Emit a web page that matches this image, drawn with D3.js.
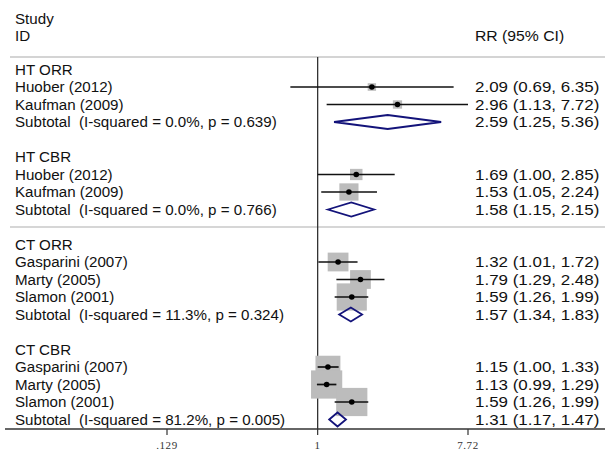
<!DOCTYPE html>
<html>
<head>
    <script src="https://d3js.org/d3.v7.min.js"></script>
    <style>
        body { margin: 0; background: #fff; }
        text { font-family: "Liberation Sans", Arial, sans-serif; font-size: 15px; fill: #111; white-space: pre; }
        .tick-label { font-family: "Liberation Serif", "DejaVu Serif", serif; font-size: 11px; fill: #333; letter-spacing: 0.6px; }
    </style>
</head>
<body>
    <div id="chart"></div>
    <script>
        const width = 605, height = 451

        // subgroups
        const groupNames = ["HT ORR", "HT CBR", "CT ORR", "CT CBR"]
        const subtotalLabels = [
            "Subtotal  (I-squared = 0.0%, p = 0.639)",
            "Subtotal  (I-squared = 0.0%, p = 0.766)",
            "Subtotal  (I-squared = 11.3%, p = 0.324)",
            "Subtotal  (I-squared = 81.2%, p = 0.005)"
        ]
        const subtotalRR = [2.59, 1.58, 1.57, 1.31]
        const subtotalLow = [1.25, 1.15, 1.34, 1.17]
        const subtotalHigh = [5.36, 2.15, 1.83, 1.47]

        // individual studies
        const studyNames = ["Huober (2012)", "Kaufman (2009)", "Huober (2012)", "Kaufman (2009)",
            "Gasparini (2007)", "Marty (2005)", "Slamon (2001)",
            "Gasparini (2007)", "Marty (2005)", "Slamon (2001)"]
        const studyGroup = [0, 0, 1, 1, 2, 2, 2, 3, 3, 3]
        const studyRR = [2.09, 2.96, 1.69, 1.53, 1.32, 1.79, 1.59, 1.15, 1.13, 1.59]
        const studyLow = [0.69, 1.13, 1.00, 1.05, 1.01, 1.29, 1.26, 1.00, 0.99, 1.26]
        const studyHigh = [6.35, 7.72, 2.85, 2.24, 1.72, 2.48, 1.99, 1.33, 1.29, 1.99]
        const studyWeight = [1.4, 1.7, 3.1, 7.3, 8.6, 8.6, 18.1, 12.4, 19.4, 19.4]

        // axis
        const tickValues = [0.129, 1, 7.72]
        const tickLabels = [".129", "1", "7.72"]

        const fmt = d3.format(".2f")
        const ciText = (m, l, h) => `${fmt(m)} (${fmt(l)}, ${fmt(h)})`

        // build rows: group label, studies, subtotal, blank
        const rows = []
        groupNames.forEach((g, gi) => {
            rows.push({ type: "label", text: g })
            studyNames.forEach((s, i) => {
                if (studyGroup[i] === gi) rows.push({ type: "study", text: s, rr: studyRR[i], lo: studyLow[i], hi: studyHigh[i], w: studyWeight[i] })
            })
            rows.push({ type: "subtotal", text: subtotalLabels[gi], rr: subtotalRR[gi], lo: subtotalLow[gi], hi: subtotalHigh[gi] })
            rows.push({ type: "blank" })
        })

        const rowStep = 17.5, firstRow = 69.5
        const yRow = i => firstRow + i * rowStep
        const x = d3.scaleLog().domain([0.129, 7.72]).range([167, 468])
        const boxSize = d3.scaleSqrt().domain([0, 19.4]).range([0, 30])
        const axisY = 429, textX = 15, ciX = 475
        const labelStretch = 1.01, ciStretch = 1.13   // the numbers column is drawn a bit wide

        const svg = d3.select("#chart").append("svg")
            .attr("width", width)
            .attr("height", height)

        const addText = (tx, ty, str, stretch) => svg.append("text")
            .attr("transform", `translate(${tx},${ty}) scale(${stretch},1)`)
            .text(str)

        // header
        addText(textX, 24, "Study", labelStretch)
        addText(textX, 41, "ID", labelStretch)
        addText(ciX, 41, "RR (95% CI)", 1.05)

        // gray separators
        svg.append("line").attr("x1", 10).attr("x2", width).attr("y1", 57).attr("y2", 57)
            .attr("stroke", "#d4d4d4").attr("stroke-width", 2)
        svg.append("line").attr("x1", 10).attr("x2", width).attr("y1", yRow(9)).attr("y2", yRow(9))
            .attr("stroke", "#c8c8c8").attr("stroke-width", 1.5)

        // null line
        svg.append("line").attr("x1", x(1)).attr("x2", x(1)).attr("y1", 57).attr("y2", axisY)
            .attr("stroke", "#333").attr("stroke-width", 1.3)

        const studyRows = rows.map((r, i) => ({ ...r, y: yRow(i) })).filter(r => r.type === "study")
        const subRows = rows.map((r, i) => ({ ...r, y: yRow(i) })).filter(r => r.type === "subtotal")

        // weight boxes first so lines sit on top
        svg.append("g").selectAll("rect")
            .data(studyRows)
            .join("rect")
            .attr("x", d => x(d.rr) - boxSize(d.w) * 0.52)
            .attr("y", d => d.y - boxSize(d.w) * 0.47)
            .attr("width", d => boxSize(d.w) * 1.04)
            .attr("height", d => boxSize(d.w) * 0.94)
            .attr("fill", "#bcbcbc")

        svg.append("g").selectAll("line")
            .data(studyRows)
            .join("line")
            .attr("x1", d => x(d.lo))
            .attr("x2", d => x(d.hi))
            .attr("y1", d => d.y)
            .attr("y2", d => d.y)
            .attr("stroke", "#111")
            .attr("stroke-width", 1.7)

        svg.append("g").selectAll("circle")
            .data(studyRows)
            .join("circle")
            .attr("cx", d => x(d.rr))
            .attr("cy", d => d.y)
            .attr("r", 2.8)
            .attr("fill", "#000")

        // subtotal diamonds
        svg.append("g").selectAll("path")
            .data(subRows)
            .join("path")
            .attr("d", d => `M${x(d.lo)},${d.y} L${x(d.rr)},${d.y - 7} L${x(d.hi)},${d.y} L${x(d.rr)},${d.y + 7} Z`)
            .attr("fill", "none")
            .attr("stroke", "#13137a")
            .attr("stroke-width", 1.8)

        // left labels and right estimates
        rows.forEach((r, i) => {
            if (r.type === "blank") return
            addText(textX, yRow(i) + 5, r.text, labelStretch)
            if (r.type !== "label")
                addText(ciX, yRow(i) + 5, ciText(r.rr, r.lo, r.hi), ciStretch)
        })

        // axis
        svg.append("line").attr("x1", 5).attr("x2", width).attr("y1", axisY).attr("y2", axisY)
            .attr("stroke", "#333").attr("stroke-width", 1.3)
        const ticks = svg.append("g").selectAll("g")
            .data(tickValues)
            .join("g")
            .attr("transform", d => `translate(${x(d)},${axisY})`)
        ticks.append("line").attr("y1", 0).attr("y2", 6).attr("stroke", "#333").attr("stroke-width", 1.2)
        ticks.append("text")
            .attr("class", "tick-label")
            .attr("y", 20)
            .attr("text-anchor", "middle")
            .text((d, i) => tickLabels[i])
    </script>
</body>
</html>
